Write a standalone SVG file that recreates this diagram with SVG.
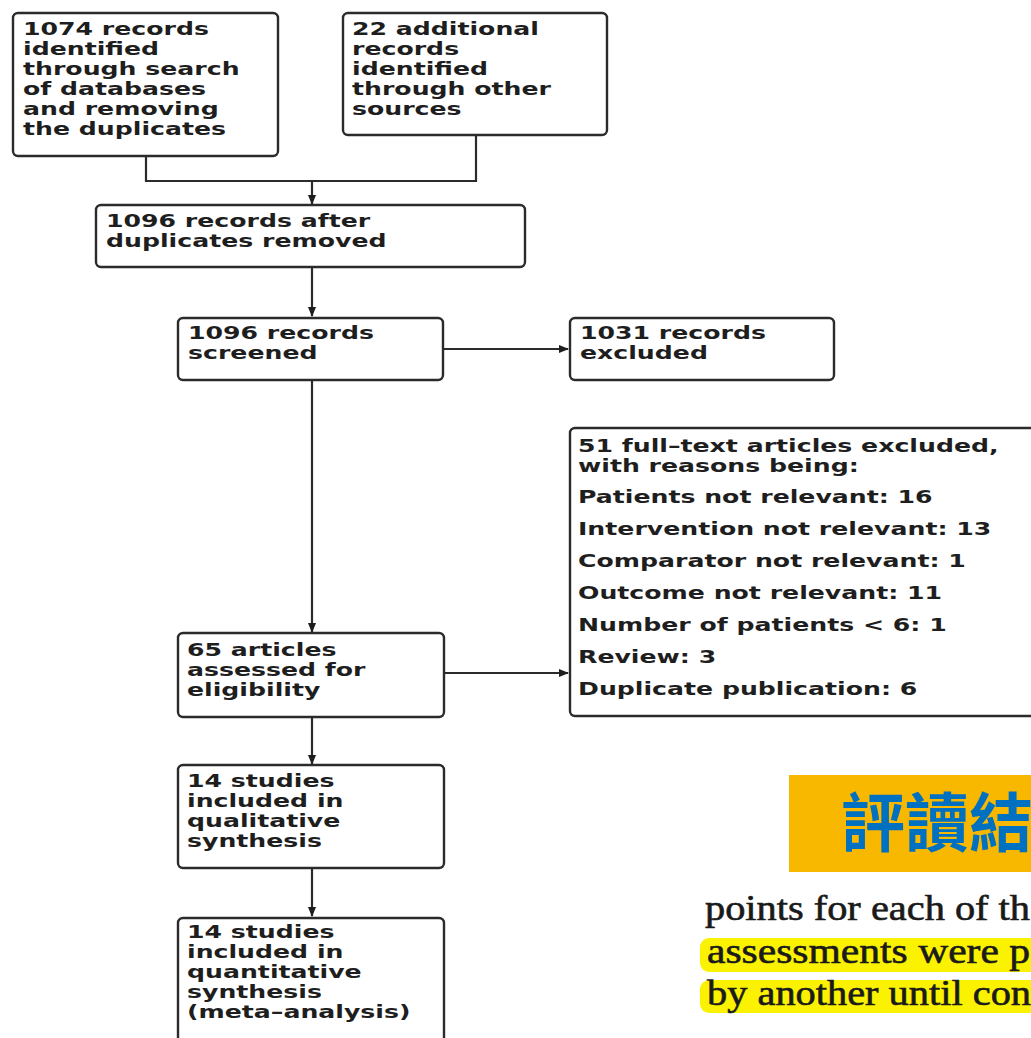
<svg xmlns="http://www.w3.org/2000/svg" width="1031" height="1038" viewBox="0 0 1031 1038">
<style>
.box{fill:#fff;stroke:#2b2b2b;stroke-width:2.4}
.t{font-family:"DejaVu Sans",Verdana,sans-serif;font-weight:bold;font-size:18px;fill:#1e1e1e}
.ln{fill:none;stroke:#2b2b2b;stroke-width:2.2}
.serif{font-family:"Liberation Serif","Times New Roman",serif;font-size:35px;fill:#1a1a1a;stroke:#1a1a1a;stroke-width:0.6}
</style>
<defs>
<marker id="ah" markerWidth="10" markerHeight="8" refX="9" refY="4" orient="auto" markerUnits="userSpaceOnUse">
<path d="M0,0 L10,4 L0,8 Z" fill="#1e1e1e"/>
</marker>
</defs>
<rect width="1031" height="1038" fill="#fff"/>

<g id="connectors">
<polyline class="ln" points="146,156 146,181 476,181 476,135"/>
<line class="ln" x1="312" y1="181" x2="312" y2="204" marker-end="url(#ah)"/>
<line class="ln" x1="312" y1="268" x2="312" y2="316" marker-end="url(#ah)"/>
<line class="ln" x1="444" y1="349" x2="568" y2="349" marker-end="url(#ah)"/>
<line class="ln" x1="312" y1="380" x2="312" y2="632" marker-end="url(#ah)"/>
<line class="ln" x1="444" y1="673" x2="568" y2="673" marker-end="url(#ah)"/>
<line class="ln" x1="312" y1="717" x2="312" y2="764" marker-end="url(#ah)"/>
<line class="ln" x1="312" y1="868" x2="312" y2="916" marker-end="url(#ah)"/>
</g>

<g id="n1">
<rect class="box" x="13" y="13" width="265" height="143" rx="5"/>
<g transform="translate(23,0) scale(1.4,1)">
<text class="t" x="0" y="35">1074 records</text>
<text class="t" x="0" y="55">identified</text>
<text class="t" x="0" y="75">through search</text>
<text class="t" x="0" y="95">of databases</text>
<text class="t" x="0" y="115">and removing</text>
<text class="t" x="0" y="135">the duplicates</text>
</g>
</g>

<g id="n2">
<rect class="box" x="343" y="13" width="264" height="122" rx="5"/>
<g transform="translate(352,0) scale(1.4,1)">
<text class="t" x="0" y="35">22 additional</text>
<text class="t" x="0" y="55">records</text>
<text class="t" x="0" y="75">identified</text>
<text class="t" x="0" y="95">through other</text>
<text class="t" x="0" y="115">sources</text>
</g>
</g>

<g id="n3">
<rect class="box" x="96" y="205" width="429" height="62" rx="5"/>
<g transform="translate(106,0) scale(1.4,1)">
<text class="t" x="0" y="227">1096 records after</text>
<text class="t" x="0" y="247">duplicates removed</text>
</g>
</g>

<g id="n4">
<rect class="box" x="178" y="318" width="265" height="62" rx="5"/>
<g transform="translate(188,0) scale(1.4,1)">
<text class="t" x="0" y="339">1096 records</text>
<text class="t" x="0" y="359">screened</text>
</g>
</g>

<g id="n5">
<rect class="box" x="570" y="318" width="264" height="62" rx="5"/>
<g transform="translate(580,0) scale(1.4,1)">
<text class="t" x="0" y="339">1031 records</text>
<text class="t" x="0" y="359">excluded</text>
</g>
</g>

<g id="n6">
<rect class="box" x="178" y="633" width="266" height="84" rx="5"/>
<g transform="translate(187,0) scale(1.4,1)">
<text class="t" x="0" y="656">65 articles</text>
<text class="t" x="0" y="676">assessed for</text>
<text class="t" x="0" y="696">eligibility</text>
</g>
</g>

<g id="n7">
<rect class="box" x="570" y="428" width="480" height="288" rx="5"/>
<g transform="translate(578,0) scale(1.4,1)">
<text class="t" x="0" y="452">51 full–text articles excluded,</text>
<text class="t" x="0" y="472">with reasons being:</text>
<text class="t" x="0" y="503">Patients not relevant: 16</text>
<text class="t" x="0" y="535">Intervention not relevant: 13</text>
<text class="t" x="0" y="567">Comparator not relevant: 1</text>
<text class="t" x="0" y="599">Outcome not relevant: 11</text>
<text class="t" x="0" y="631">Number of patients &lt; 6: 1</text>
<text class="t" x="0" y="663">Review: 3</text>
<text class="t" x="0" y="695">Duplicate publication: 6</text>
</g>
</g>

<g id="n8">
<rect class="box" x="178" y="765" width="266" height="103" rx="5"/>
<g transform="translate(187,0) scale(1.4,1)">
<text class="t" x="0" y="787">14 studies</text>
<text class="t" x="0" y="807">included in</text>
<text class="t" x="0" y="827">qualitative</text>
<text class="t" x="0" y="847">synthesis</text>
</g>
</g>

<g id="n9">
<rect class="box" x="178" y="918" width="266" height="140" rx="5"/>
<g transform="translate(187,0) scale(1.4,1)">
<text class="t" x="0" y="938">14 studies</text>
<text class="t" x="0" y="958">included in</text>
<text class="t" x="0" y="978">quantitative</text>
<text class="t" x="0" y="998">synthesis</text>
<text class="t" x="0" y="1018">(meta–analysis)</text>
</g>
</g>

<g id="title">
<rect x="789" y="775" width="250" height="97" fill="#F9B800"/>
<text x="841" y="846" font-family="'Noto Sans CJK TC','Noto Sans CJK SC',sans-serif" font-weight="bold" font-size="64" fill="#0070C0">評讀結</text>
</g>

<g id="excerpt">
<rect x="700" y="938" width="345" height="34" rx="9" fill="#FAF200"/>
<rect x="700" y="980" width="345" height="33" rx="9" fill="#FAF200"/>
<text class="serif" x="705" y="920" textLength="325" lengthAdjust="spacingAndGlyphs">points for each of th</text>
<text class="serif" x="707" y="963" textLength="323" lengthAdjust="spacingAndGlyphs">assessments were p</text>
<text class="serif" x="707" y="1005" textLength="324" lengthAdjust="spacingAndGlyphs">by another until con</text>
</g>
</svg>
